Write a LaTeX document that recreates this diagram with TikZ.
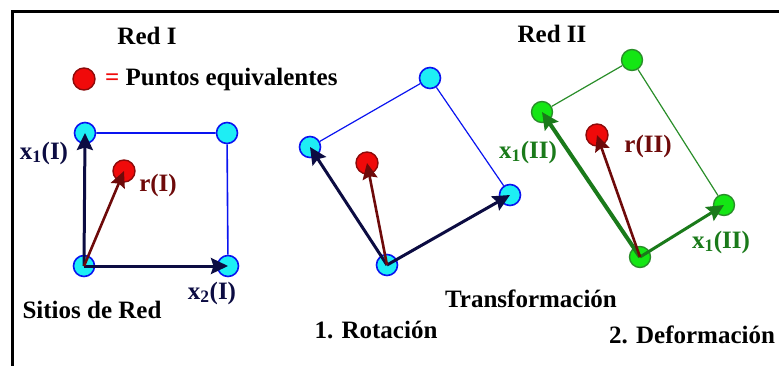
\documentclass[tikz,border=0pt]{standalone}
\usepackage{fontspec}
\setmainfont{Liberation Serif}
\usetikzlibrary{arrows.meta}
\definecolor{rdnavy}{HTML}{0C0C42}
\definecolor{rdmaroon}{HTML}{6E0A0A}
\definecolor{rdblue}{HTML}{0A14F0}
\definecolor{rdcyan}{HTML}{1EEEF4}
\definecolor{rdred}{HTML}{F00A0A}
\definecolor{rdredline}{HTML}{8C0A0A}
\definecolor{rdgreen}{HTML}{1A7A1A}
\definecolor{rdlime}{HTML}{14E614}
\definecolor{rdgreenline}{HTML}{2A8E2A}
\tikzset{
  site/.style={circle, draw=rdblue, fill=rdcyan, line width=1.6pt, minimum size=21pt, inner sep=0pt},
  gsite/.style={circle, draw=rdgreenline, fill=rdlime, line width=1.4pt, minimum size=21pt, inner sep=0pt},
  eqpt/.style={circle, draw=rdredline, fill=rdred, line width=1.4pt, minimum size=22pt, inner sep=0pt},
  edge/.style={draw=rdblue, line width=1.6pt},
  gedge/.style={draw=rdgreenline, line width=1.2pt},
  vec/.style={-{Stealth[length=17pt,width=16pt,inset=2.5pt]}, draw=rdnavy, line width=3pt},
  rvec/.style={-{Stealth[length=16pt,width=15pt,inset=2.5pt]}, draw=rdmaroon, line width=2.6pt},
  gvec/.style={-{Stealth[length=17pt,width=16pt,inset=2.5pt]}, draw=rdgreen, line width=3pt},
  lbl/.style={font=\fontsize{25}{30}\selectfont\bfseries, inner sep=0pt},
}
\begin{document}
\begin{tikzpicture}[x=1pt, y=-1pt]
      \useasboundingbox (0,0) rectangle (779,365);
      \draw[line width=3pt, line cap=rect] (779,11) -- (12,11) -- (12,365);
      % Red I
      \node[lbl] (redI) at (147,36) {Red I};
      \node[eqpt] (legpt) at (84,79) {};
      \node[lbl, anchor=west] (legtxt) at (105,79) {\textcolor{rdred}{=} Puntos equivalentes};
      \node[site] (a1) at (85,133) {};
      \node[site] (a2) at (227,133) {};
      \node[site] (a3) at (228,266) {};
      \node[site] (a0) at (84,266) {};
      \node[eqpt] (ra) at (124,171) {};
      \draw[edge] (a1) -- (a2) -- (a3);
      \draw[vec] (a0.center) -- (a1.center);
      \draw[vec] (a0.center) -- (a3.center);
      \draw[rvec] (a0.center) -- (ra.center);
      \node[lbl, text=rdnavy] (x1I) at (44,153) {x\textsubscript{1}(I)};
      \node[lbl, text=rdmaroon] (rI) at (158,185) {r(I)};
      \node[lbl, text=rdnavy] (x2I) at (212,293) {x\textsubscript{2}(I)};
      \node[lbl] (sitios) at (92,310) {Sitios de Red};
      % rotada
      \node[site] (b1) at (310,147) {};
      \node[site] (b2) at (430,78) {};
      \node[site] (b3) at (510,195) {};
      \node[site] (b0) at (387,265) {};
      \node[eqpt] (rb) at (367,163) {};
      \draw[edge, line width=1.2pt] (b1) -- (b2) -- (b3);
      \draw[vec] (b0.center) -- (b1.center);
      \draw[vec] (b0.center) -- (b3.center);
      \draw[rvec] (b0.center) -- (rb.center);
      \node[lbl] (rot) at (376,330) {1. Rotación};
      \node[lbl] (trans) at (531,299) {Transformación};
      % Red II
      \node[lbl] (redII) at (552,34) {Red II};
      \node[gsite] (c1) at (542,112) {};
      \node[gsite] (c2) at (632,60) {};
      \node[gsite] (c3) at (724,205) {};
      \node[gsite] (c0) at (640,257) {};
      \node[eqpt] (rc) at (597,135) {};
      \draw[gedge] (c1) -- (c2) -- (c3);
      \draw[gvec, line width=4pt] (c0.center) -- (c1.center);
      \draw[gvec] (c0.center) -- (c3.center);
      \draw[rvec] (c0.center) -- (rc.center);
      \node[lbl, text=rdgreen] (x1IIa) at (528,152) {x\textsubscript{1}(II)};
      \node[lbl, text=rdmaroon] (rII) at (648,146) {r(II)};
      \node[lbl, text=rdgreen] (x1IIb) at (721,242) {x\textsubscript{1}(II)};
      \node[lbl] (defo) at (692,335) {2. Deformación};
\end{tikzpicture}
\end{document}
